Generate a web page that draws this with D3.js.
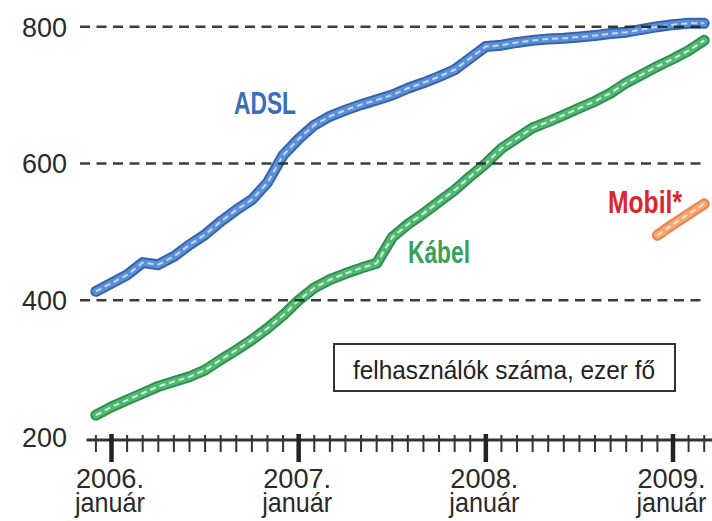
<!DOCTYPE html>
<html>
<head>
<meta charset="utf-8">
<script src="https://cdn.jsdelivr.net/npm/d3@7"></script>
<style>
  html, body { margin: 0; padding: 0; background: #ffffff; }
  svg { display: block; }
  text { font-family: "Liberation Sans Narrow", "Arial Narrow", "Liberation Sans", Arial, sans-serif; }
</style>
</head>
<body>
<svg id="chart" width="712" height="521"></svg>
<script>
// month index: 0 = 2006 January; -1 = 2005 December
const startMonth = -1;
const adsl = [413, 425, 437, 455, 452, 464, 481, 496, 515, 532, 547, 572, 612,
              636, 656, 669, 678, 686, 693, 700, 710, 718, 727, 737, 754,
              771, 773, 777, 780, 782, 783, 785, 787, 790, 792, 796, 800,
              803, 805, 805];
const kabel = [232, 244, 254, 264, 274, 281, 288, 298, 313, 327, 342, 359, 378,
               400, 418, 430, 439, 447, 454, 492, 511, 527, 544, 561, 581,
               600, 622, 637, 652, 661, 671, 681, 691, 703, 718, 730, 742,
               753, 765, 780];
const mobilStart = 35; // 2008 December
const mobil = [495, 511, 526, 541];

const yTicks = [200, 400, 600, 800];
const yearTicks = [0, 12, 24, 36];
const yearLabels = ["2006.", "2007.", "2008.", "2009."];
const monthLabel = "január";
const seriesLabels = ["ADSL", "Kábel", "Mobil*"];
const noteText = "felhasználók száma, ezer fő";

const svg = d3.select("#chart");
const x = d3.scaleLinear().domain([0, 36]).range([111.5, 673]);
const y = d3.scaleLinear().domain([200, 800]).range([437, 26.7]);

const months = d3.range(-1, 39);

// series lines
const line = d3.line().x(d => x(d.m)).y(d => y(d.v));
const toPts = (arr, s) => arr.map((v, i) => ({ m: s + i, v }));

const series = [
  { pts: toPts(adsl, startMonth), edge: "#3564ad", body: "#5b8fd6", core: "#c3d8f3" },
  { pts: toPts(kabel, startMonth), edge: "#2f9150", body: "#52b873", core: "#d3efda" },
  { pts: toPts(mobil, mobilStart), edge: "#ef8150", body: "#f6a872", core: "#fde2cc" }
];

const defs = svg.append("defs");
defs.append("filter").attr("id", "soft").append("feGaussianBlur").attr("stdDeviation", 0.6);

const gLines = svg.append("g").attr("filter", "url(#soft)");
series.forEach(s => {
  gLines.append("path").attr("d", line(s.pts)).attr("fill", "none")
    .attr("stroke", s.edge).attr("stroke-width", 11)
    .attr("stroke-linejoin", "round").attr("stroke-linecap", "round");
  gLines.append("path").attr("d", line(s.pts)).attr("fill", "none")
    .attr("stroke", s.body).attr("stroke-width", 7)
    .attr("stroke-linejoin", "round").attr("stroke-linecap", "round");
  gLines.append("path").attr("d", line(s.pts)).attr("fill", "none")
    .attr("stroke", s.core).attr("stroke-width", 2)
    .attr("stroke-dasharray", "6,4")
    .attr("stroke-linejoin", "round");
});

// gridlines (dashed), drawn over lines
svg.append("g").selectAll("line").data(yTicks.filter(v => v > 200)).join("line")
  .attr("x1", 80).attr("x2", 707)
  .attr("y1", d => y(d)).attr("y2", d => y(d))
  .attr("stroke", "#222").attr("stroke-opacity", 0.88)
  .attr("stroke-width", 2.6).attr("stroke-dasharray", "10,6.5");

// y labels
svg.append("g").selectAll("text").data(yTicks).join("text")
  .attr("x", 67).attr("y", d => y(d) + 10)
  .attr("text-anchor", "end")
  .attr("font-size", 28).attr("fill", "#2a2a2a")
  .attr("textLength", 45).attr("lengthAdjust", "spacingAndGlyphs")
  .text(d => d);

// x axis
const axisY = y(200) + 3;
svg.append("line")
  .attr("x1", x(-1.6)).attr("x2", x(38.6))
  .attr("y1", axisY).attr("y2", axisY)
  .attr("stroke", "#333").attr("stroke-width", 3);

svg.append("g").selectAll("line").data(months.filter(m => m % 12 !== 0)).join("line")
  .attr("x1", d => x(d)).attr("x2", d => x(d))
  .attr("y1", axisY - 5).attr("y2", axisY + 12)
  .attr("stroke", "#333").attr("stroke-width", 2);

svg.append("g").selectAll("line").data(yearTicks).join("line")
  .attr("x1", d => x(d)).attr("x2", d => x(d))
  .attr("y1", axisY - 6).attr("y2", axisY + 22)
  .attr("stroke", "#222").attr("stroke-width", 4.5);

const xl = svg.append("g").selectAll("g").data(yearTicks).join("g");
xl.append("text")
  .attr("x", d => x(d) - 1.5).attr("y", 488)
  .attr("text-anchor", "middle").attr("font-size", 28).attr("fill", "#2a2a2a")
  .attr("textLength", 68).attr("lengthAdjust", "spacingAndGlyphs")
  .text((d, i) => yearLabels[i]);
xl.append("text")
  .attr("x", d => x(d) - 1.5).attr("y", 512)
  .attr("text-anchor", "middle").attr("font-size", 28).attr("fill", "#2a2a2a")
  .attr("textLength", 70).attr("lengthAdjust", "spacingAndGlyphs")
  .text(monthLabel);

// series labels
svg.append("text").attr("x", 265).attr("y", 114).attr("text-anchor", "middle")
  .attr("font-size", 32).attr("font-weight", "bold").attr("fill", "#3a6fb8")
  .attr("textLength", 62).attr("lengthAdjust", "spacingAndGlyphs")
  .text(seriesLabels[0]);
svg.append("text").attr("x", 439).attr("y", 263).attr("text-anchor", "middle")
  .attr("font-size", 32).attr("font-weight", "bold").attr("fill", "#3a9f5a")
  .attr("textLength", 62).attr("lengthAdjust", "spacingAndGlyphs")
  .text(seriesLabels[1]);
svg.append("text").attr("x", 645).attr("y", 213).attr("text-anchor", "middle")
  .attr("font-size", 32).attr("font-weight", "bold").attr("fill", "#d9262e")
  .attr("textLength", 74).attr("lengthAdjust", "spacingAndGlyphs")
  .text(seriesLabels[2]);

// note box
svg.append("rect").attr("x", 334).attr("y", 344).attr("width", 341).attr("height", 47)
  .attr("fill", "#fff").attr("stroke", "#333").attr("stroke-width", 2);
svg.append("text").attr("x", 504).attr("y", 379).attr("text-anchor", "middle")
  .attr("font-size", 26).attr("fill", "#222")
  .attr("textLength", 302).attr("lengthAdjust", "spacingAndGlyphs")
  .text(noteText);
</script>
</body>
</html>
